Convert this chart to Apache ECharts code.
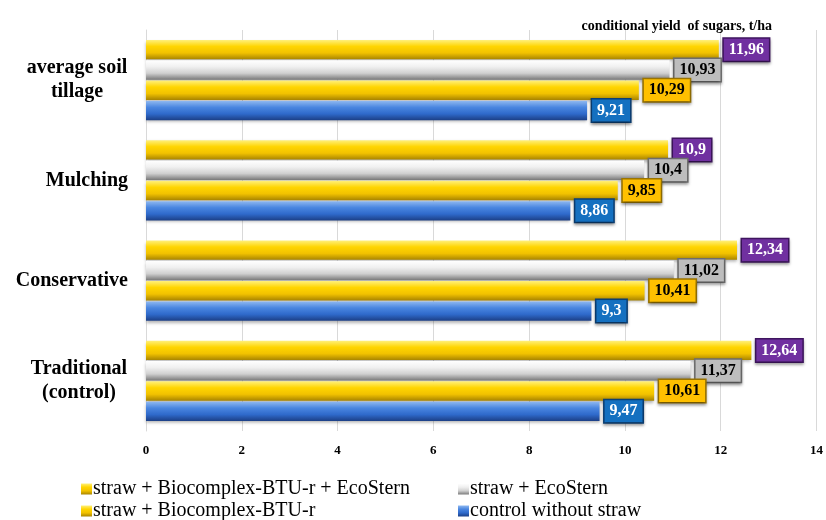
<!DOCTYPE html>
<html>
<head>
<meta charset="utf-8">
<script src="https://cdn.jsdelivr.net/npm/echarts@6/dist/echarts.min.js"></script>
<style>html,body{margin:0;padding:0;background:#fff}#c{width:826px;height:520px}</style>
</head>
<body>
<div id="c"></div>
<script>
const categories = ['Traditional (control)', 'Conservative', 'Mulching', 'average soil tillage'];
const controlWithoutStraw = [9.47, 9.3, 8.86, 9.21];
const strawBio = [10.61, 10.41, 9.85, 10.29];
const strawEco = [11.37, 11.02, 10.4, 10.93];
const strawBioEco = [12.64, 12.34, 10.9, 11.96];
const seriesNames = ['control without straw', 'straw + Biocomplex-BTU-r', 'straw + EcoStern', 'straw + Biocomplex-BTU-r + EcoStern'];
const xTicks = [0, 2, 4, 6, 8, 10, 12, 14];
const titleText = 'conditional yield  of sugars, t/ha';

const serif = '"Liberation Serif", "Times New Roman", serif';
function vgrad(stops) {
  return new echarts.graphic.LinearGradient(0, 0, 0, 1, stops.map((c, i) => ({offset: i / (stops.length - 1), color: c})));
}
const gold = vgrad(['#fff07a', '#ffd500', '#f2c200', '#a88400']);
const gray = vgrad(['#ffffff', '#f0f0f0', '#d0d0d0', '#7a7a7a']);
const blue = vgrad(['#8fb8f0', '#4a86e0', '#2f6acb', '#1c3f86']);

function mk(name, data, color, lblBg, lblBorder, lblColor) {
  return {
    name, type: 'bar', data,
    barCategoryGap: '20%', barGap: '5%',
    itemStyle: {color, shadowBlur: 3, shadowOffsetY: 2, shadowColor: 'rgba(0,0,0,0.3)'},
    label: {
      show: true, position: 'right', distance: 5,
      formatter: p => String(p.value).replace('.', ','),
      fontFamily: serif, fontWeight: 'bold', fontSize: 16, color: lblColor,
      backgroundColor: lblBg, borderColor: lblBorder, borderWidth: 1.5,
      padding: [3, 5, 3, 5],
      shadowBlur: 3, shadowOffsetY: 2, shadowColor: 'rgba(0,0,0,0.35)'
    }
  };
}
function lg(name, left, top) {
  return {
    data: [name], left, top, orient: 'horizontal',
    itemWidth: 11, itemHeight: 11, icon: 'rect',
    textStyle: {fontFamily: serif, fontSize: 20, color: '#000', padding: [0, 0, 0, -4]}
  };
}

const chart = echarts.init(document.getElementById('c'));
chart.setOption({
  animation: false,
  backgroundColor: '#fff',
  title: {
    text: titleText, right: 49, top: 14,
    textStyle: {fontFamily: serif, fontWeight: 'bold', fontSize: 14, color: '#000'}
  },
  grid: {left: 146, right: 8, top: 30, bottom: 89, containLabel: false},
  xAxis: {
    type: 'value', min: 0, max: 14, interval: 2,
    axisLine: {show: false}, axisTick: {show: false},
    splitLine: {lineStyle: {color: '#d9d9d9', width: 1}},
    axisLabel: {
      margin: 13, fontFamily: serif, fontWeight: 'bold', fontSize: 13, color: '#000',
      formatter: v => xTicks.includes(v) ? String(v) : ''
    }
  },
  yAxis: {
    type: 'category', data: categories,
    axisLine: {show: true, lineStyle: {color: '#d9d9d9'}},
    axisTick: {show: false},
    axisLabel: {
      margin: 18, fontFamily: serif, fontWeight: 'bold', fontSize: 20, color: '#000',
      lineHeight: 24,
      formatter: v => {
        if (v === 'average soil tillage') return '{c|average soil}\n{c|tillage}';
        if (v === 'Traditional (control)') return '{d|Traditional}\n{d|(control)}';
        return v;
      },
      rich: {
        c: {width: 102, align: 'center', fontFamily: serif, fontWeight: 'bold', fontSize: 20, color: '#000', lineHeight: 24},
        d: {width: 98, align: 'center', fontFamily: serif, fontWeight: 'bold', fontSize: 20, color: '#000', lineHeight: 24}
      }
    }
  },
  legend: [
    lg(seriesNames[3], 76, 474),
    lg(seriesNames[1], 76, 496),
    lg(seriesNames[2], 453, 474),
    lg(seriesNames[0], 453, 496)
  ],
  series: [
    mk(seriesNames[3], strawBioEco, gold, '#7030a0', '#3f1560', '#fff'),
    mk(seriesNames[2], strawEco, gray, '#bdbdbd', '#6e6e6e', '#000'),
    mk(seriesNames[1], strawBio, gold, '#ffc000', '#9a7400', '#000'),
    mk(seriesNames[0], controlWithoutStraw, blue, '#1470c0', '#0b3f75', '#fff')
  ]
});
</script>
</body>
</html>
